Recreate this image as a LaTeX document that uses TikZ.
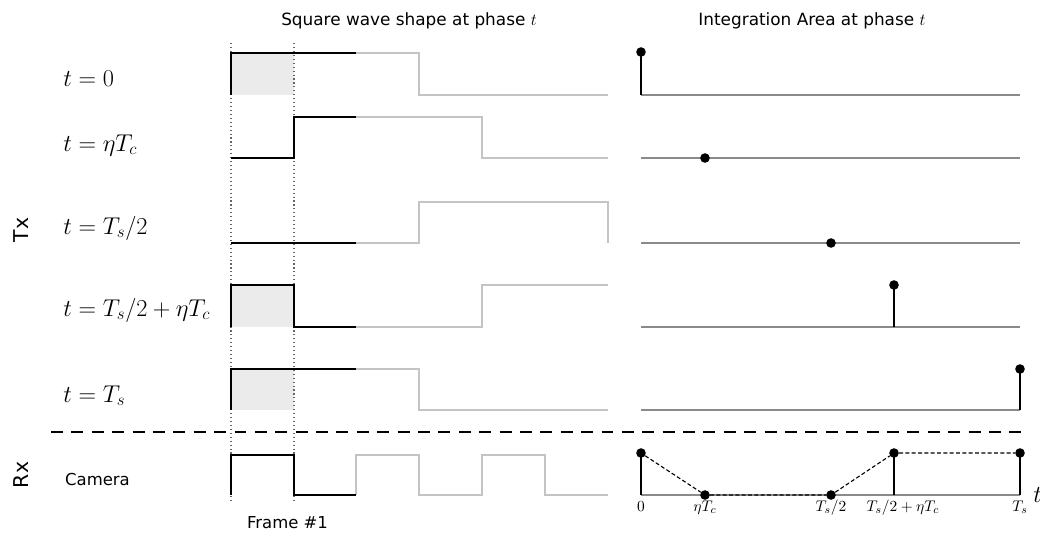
\documentclass[tikz,border=0pt]{standalone}
\usepackage{fontspec}
\newfontfamily\dejavu{DejaVu Sans}
\definecolor{wavegray}{HTML}{C4C4C4}
\definecolor{basegray}{HTML}{8A8A8A}
\definecolor{fillgray}{HTML}{EBEBEB}
\begin{document}
\begin{tikzpicture}[x=0.025cm,y=-0.025cm,
  blackwave/.style={line width=1.4pt, black},
  graywave/.style={line width=1.4pt, wavegray},
  baseaxis/.style={line width=1.4pt, basegray},
  stemline/.style={line width=1.4pt, black},
  dot/.style={circle, fill=black, inner sep=0pt, minimum size=0.24cm},
  guide/.style={dotted, line width=0.8pt, black!60},
  sepline/.style={dash pattern=on 8.5pt off 6pt, line width=0.8pt},
  linkline/.style={dash pattern=on 2.8pt off 1.7pt, line width=0.8pt},
  rowlabel/.style={anchor=base west, inner sep=0pt, font=\fontsize{17}{20}\selectfont},
  axlabel/.style={anchor=base, inner sep=0pt, font=\fontsize{11}{13}\selectfont},
  head/.style={anchor=base, inner sep=0pt, font=\dejavu\fontsize{12}{14}\selectfont},
  smalltext/.style={anchor=base, inner sep=0pt, font=\dejavu\fontsize{11.7}{14}\selectfont},
  sidetext/.style={rotate=90, inner sep=0pt, font=\dejavu\fontsize{14.5}{17}\selectfont}
]
\useasboundingbox (0,0) rectangle (1040,533);

% headings
\node[head] (h1) at (409,25) {Square wave shape at phase $t$};
\node[head] (h2) at (812,25) {Integration Area at phase $t$};

% side labels
\node[sidetext] (tx) at (21,230) {Tx};
\node[sidetext] (rx) at (21,475) {Rx};

% row labels
\node[rowlabel] (l1) at (63,86) {$t=0$};
\node[rowlabel] (l2) at (63,151) {$t=\eta T_c$};
\node[rowlabel] (l3) at (63,234) {$t=T_s/2$};
\node[rowlabel] (l4) at (63,316) {$t=T_s/2+\eta T_c$};
\node[rowlabel] (l5) at (63,402) {$t=T_s$};
\node[smalltext] (cam) at (97.5,485) {Camera};
\node[smalltext] (frame) at (287.5,528) {Frame \#1};

% gray integration fills
\fill[fillgray] (231,53) rectangle (294,95);
\fill[fillgray] (231,285) rectangle (294,327);
\fill[fillgray] (231,369) rectangle (294,410);

% frame guides
\draw[guide] (231,43) -- (231,503);
\draw[guide] (294,43) -- (294,503);

% separator
\draw[sepline] (51,432) -- (1028,432);

% row 1
\draw[graywave] (356,53) -- (419,53) -- (419,95) -- (608,95);
\draw[blackwave] (231,95) -- (231,53) -- (356,53);
% row 2
\draw[graywave] (356,117) -- (482,117) -- (482,158) -- (608,158);
\draw[blackwave] (231,158) -- (294,158) -- (294,117) -- (356,117);
% row 3
\draw[graywave] (356,243) -- (419,243) -- (419,202) -- (608,202) -- (608,243);
\draw[blackwave] (231,243) -- (356,243);
% row 4
\draw[graywave] (356,327) -- (482,327) -- (482,285) -- (608,285);
\draw[blackwave] (231,327) -- (231,285) -- (294,285) -- (294,327) -- (356,327);
% row 5
\draw[graywave] (356,369) -- (419,369) -- (419,410) -- (608,410);
\draw[blackwave] (231,410) -- (231,369) -- (356,369);
% camera
\draw[graywave] (356,495) -- (356,455) -- (419,455) -- (419,495) -- (482,495) -- (482,455) -- (545,455) -- (545,495) -- (608,495);
\draw[blackwave] (231,495) -- (231,455) -- (294,455) -- (294,495) -- (356,495);

% integration panels
\draw[baseaxis] (641,95) -- (1020,95);
\draw[baseaxis] (641,158) -- (1020,158);
\draw[baseaxis] (641,243) -- (1020,243);
\draw[baseaxis] (641,327) -- (1020,327);
\draw[baseaxis] (641,410) -- (1020,410);
\draw[baseaxis] (641,495) -- (1020,495);

\coordinate (b1) at (641,95);
\node[dot] (d1) at (641,52) {};
\draw[stemline] (b1) -- (d1.center);
\node[dot] (d2) at (705,158) {};
\node[dot] (d3) at (831,243) {};
\coordinate (b4) at (894,327);
\node[dot] (d4) at (894,285) {};
\draw[stemline] (b4) -- (d4.center);
\coordinate (b5) at (1020,410);
\node[dot] (d5) at (1020,369) {};
\draw[stemline] (b5) -- (d5.center);

% Rx integration
\coordinate (s0) at (641,495);
\coordinate (s3) at (894,495);
\coordinate (s4) at (1020,495);
\node[dot] (r0) at (641,453) {};
\node[dot] (r1) at (705,495) {};
\node[dot] (r2) at (831,495) {};
\node[dot] (r3) at (894,453) {};
\node[dot] (r4) at (1020,453) {};
\draw[stemline] (s0) -- (r0.center);
\draw[stemline] (s3) -- (r3.center);
\draw[stemline] (s4) -- (r4.center);
\draw[linkline] (r0) -- (r1) -- (r2) -- (r3) -- (r4);

% axis labels
\node[axlabel] (a0) at (641,511) {$0$};
\node[axlabel] (a1) at (705,511) {$\eta T_c$};
\node[axlabel] (a2) at (831,511) {$T_s/2$};
\node[axlabel] (a3) at (903,511) {$T_s/2+\eta T_c$};
\node[axlabel] (a4) at (1020,511) {$T_s$};
\node[rowlabel] (tax) at (1033,502) {$t$};
\end{tikzpicture}
\end{document}
